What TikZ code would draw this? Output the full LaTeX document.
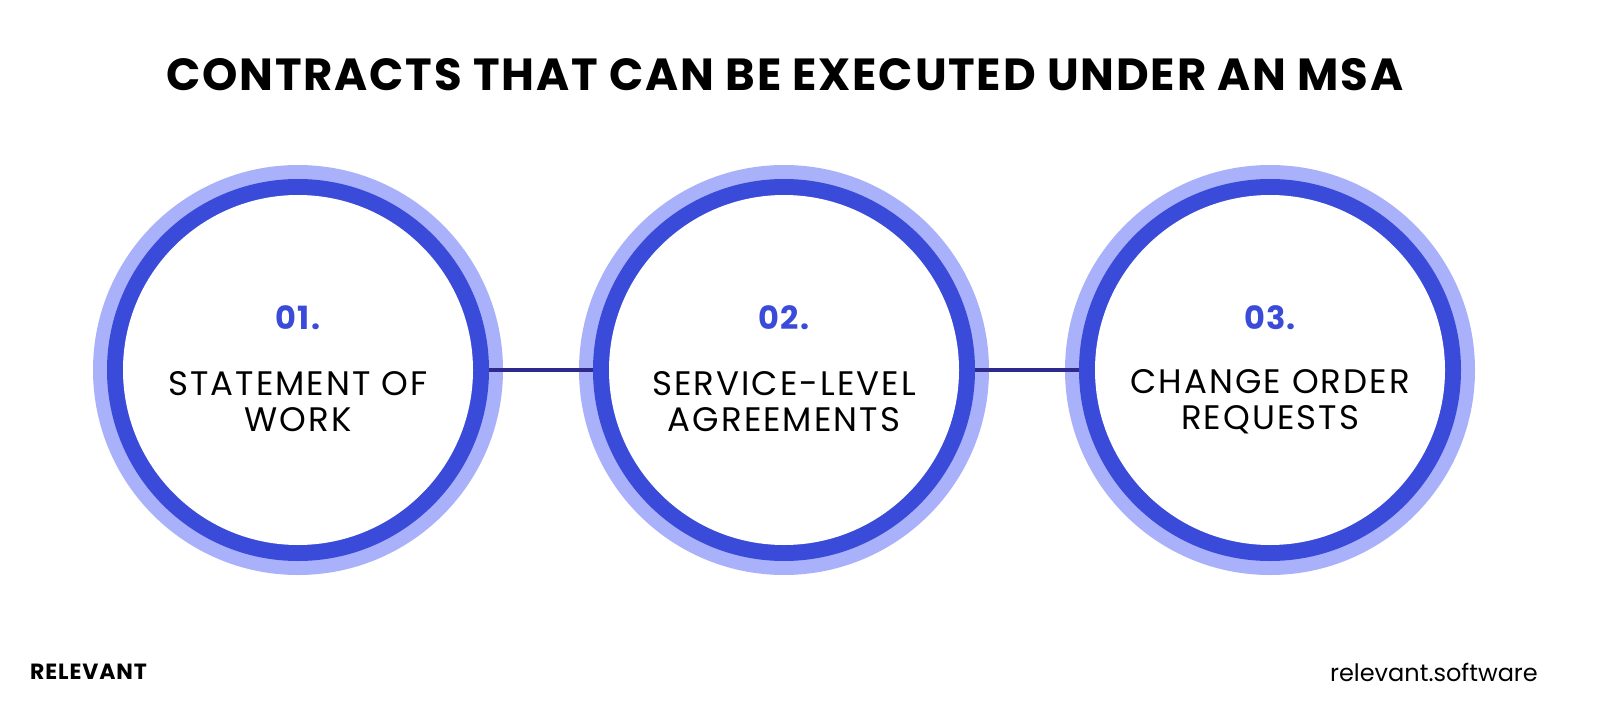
\documentclass[tikz,border=0pt]{standalone}
\usepackage{fontspec}
\setmainfont{Poppins}
\newfontfamily\spaced[LetterSpace=6]{Poppins}
\newfontfamily\spacedb[LetterSpace=4]{Poppins}
\definecolor{lightring}{HTML}{A9B1FA}
\definecolor{darkring}{HTML}{3A4AD9}
\definecolor{navy}{HTML}{2E2A8C}
\definecolor{numblue}{HTML}{3A4AD9}
\begin{document}
\begin{tikzpicture}[x=1pt,y=-1pt,
  outer/.style={circle,fill=lightring,minimum size=410pt,inner sep=0pt},
  mid/.style={circle,fill=darkring,minimum size=382pt,inner sep=0pt},
  inner/.style={circle,fill=white,minimum size=350pt,inner sep=0pt},
  label/.style={align=center,font=\spaced\fontsize{34}{36}\selectfont},
  num/.style={font=\spacedb\fontsize{32}{34}\selectfont\bfseries,text=numblue},
  link/.style={navy,line width=4pt}]
\useasboundingbox (0,0) rectangle (1600,717);
\fill[white] (0,0) rectangle (1600,717);
\node[font=\spacedb\fontsize{45}{48}\selectfont\bfseries] (title) at (785,75) {CONTRACTS THAT CAN BE EXECUTED UNDER AN MSA};
\foreach \i/\x in {1/298,2/784,3/1270}{
  \node[outer] (o\i) at (\x,370) {};
  \node[mid] (m\i) at (\x,370) {};
  \node[inner] (c\i) at (\x,370) {};
}
\draw[link] (m1.east) -- (m2.west);
\draw[link] (m2.east) -- (m3.west);
\node[num] (n1) at (298,318) {01.};
\node[num] (n2) at (784,318) {02.};
\node[num] (n3) at (1270,318) {03.};
\node[label] (t1) at (298,402) {STATEMENT OF\\WORK};
\node[label] (t2) at (784,402) {SERVICE-LEVEL\\AGREEMENTS};
\node[label] (t3) at (1270,402) {CHANGE ORDER\\REQUESTS};
\node[anchor=west,font=\spacedb\fontsize{22}{24}\selectfont\bfseries,inner sep=0pt] (brand) at (30,672) {RELEVANT};
\node[anchor=east,font=\fontsize{24}{26}\selectfont,inner sep=0pt] (site) at (1538,672) {relevant.software};
\end{tikzpicture}
\end{document}
